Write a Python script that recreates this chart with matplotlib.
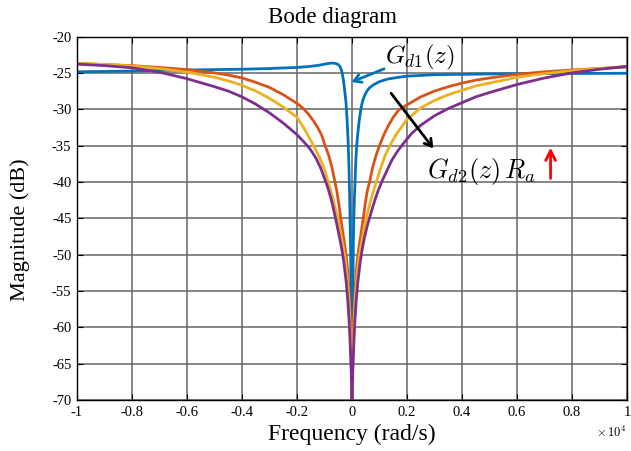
import matplotlib
matplotlib.use('Agg')
import matplotlib.pyplot as plt
import numpy as np

# frequency in units of 1e4 rad/s, magnitude in dB
gd1_w = [-1.0, -0.8, -0.6, -0.4, -0.3, -0.2, -0.15, -0.12, -0.1, -0.085, -0.07, -0.06,
         -0.05, -0.043, -0.037, -0.032, -0.027, -0.022, -0.018, -0.014, -0.011, -0.008,
         -0.005, -0.002, 0.0,
         0.002, 0.005, 0.008, 0.011, 0.014, 0.017, 0.022, 0.027, 0.033, 0.039, 0.047,
         0.056, 0.065, 0.08, 0.1, 0.13, 0.17, 0.2, 0.25, 0.3, 0.4, 0.5, 0.7, 1.0]
gd1_db = [-24.85, -24.75, -24.6, -24.5, -24.4, -24.25, -24.1, -23.95, -23.8, -23.7, -23.65, -23.7,
          -23.85, -24.15, -24.8, -25.8, -27.3, -29.0, -31.3, -34.5, -38.0, -43.0,
          -50.0, -60.0, -70.0,
          -60.0, -48.0, -43.0, -40.0, -37.0, -35.0, -33.0, -31.3, -29.8, -28.8, -28.0,
          -27.4, -27.0, -26.6, -26.2, -25.85, -25.6, -25.45, -25.35, -25.25, -25.2, -25.15,
          -25.1, -25.05]

ra1_w = [-1.0, -0.9, -0.8, -0.7, -0.6, -0.5, -0.45, -0.4, -0.35, -0.3, -0.25, -0.2,
         -0.18, -0.16, -0.14, -0.125, -0.11, -0.098, -0.085, -0.073, -0.062, -0.055,
         -0.048, -0.041, -0.034, -0.027, -0.02, -0.014, -0.009, -0.005, -0.002, 0.0,
         0.002, 0.005, 0.009, 0.014, 0.02, 0.027, 0.034, 0.041, 0.048, 0.055, 0.064,
         0.075, 0.087, 0.1, 0.115, 0.13, 0.15, 0.17, 0.2, 0.25, 0.3, 0.35, 0.4, 0.45,
         0.5, 0.6, 0.7, 0.8, 0.9, 1.0]
ra1_db = [-23.7, -23.85, -24.0, -24.25, -24.55, -25.0, -25.3, -25.7, -26.3, -27.0, -28.0, -29.2,
          -29.8, -30.6, -31.6, -32.5, -33.6, -35.0, -36.3, -38.0, -40.0, -41.3,
          -43.0, -45.0, -46.8, -48.6, -50.5, -53.0, -56.5, -60.5, -65.5, -70.0,
          -65.5, -60.5, -56.5, -53.0, -50.5, -48.6, -46.8, -45.0, -43.0, -41.3, -40.0,
          -38.0, -36.4, -35.0, -33.6, -32.4, -31.1, -30.1, -29.4, -28.3, -27.5, -26.9,
          -26.4, -26.0, -25.7, -25.2, -24.85, -24.6, -24.4, -24.2]

ra2_w = [-1.0, -0.9, -0.8, -0.7, -0.6, -0.5, -0.45, -0.4, -0.35, -0.3, -0.25, -0.2,
         -0.17, -0.14, -0.116, -0.1, -0.086, -0.075, -0.065, -0.057, -0.05, -0.042,
         -0.034, -0.026, -0.019, -0.013, -0.008, -0.004, -0.0015, 0.0,
         0.0015, 0.004, 0.008, 0.013, 0.019, 0.026, 0.034, 0.042, 0.05, 0.058, 0.067,
         0.078, 0.09, 0.105, 0.12, 0.138, 0.16, 0.2, 0.25, 0.3, 0.35, 0.4, 0.45, 0.5,
         0.6, 0.7, 0.8, 0.9, 1.0]
ra2_db = [-23.7, -23.85, -24.05, -24.4, -24.9, -25.6, -26.1, -26.7, -27.5, -28.5, -29.7, -31.1,
          -32.9, -35.0, -36.8, -38.3, -40.0, -41.5, -43.0, -44.2, -45.3, -46.8,
          -48.5, -50.3, -52.6, -55.3, -58.7, -63.0, -67.0, -70.0,
          -67.0, -63.0, -58.7, -55.3, -52.6, -50.3, -48.5, -46.8, -45.3, -44.0, -42.7,
          -41.2, -39.8, -38.0, -36.4, -35.0, -33.5, -31.4, -29.8, -28.8, -28.0, -27.4,
          -26.8, -26.4, -25.6, -25.1, -24.7, -24.4, -24.1]

ra3_w = [-1.0, -0.9, -0.8, -0.7, -0.6, -0.5, -0.45, -0.4, -0.35, -0.3, -0.25, -0.2,
         -0.17, -0.15, -0.13, -0.115, -0.1, -0.088, -0.077, -0.068, -0.06, -0.052,
         -0.044, -0.036, -0.03, -0.021, -0.015, -0.01, -0.006, -0.003, 0.0,
         0.003, 0.006, 0.01, 0.015, 0.021, 0.03, 0.036, 0.045, 0.055, 0.065, 0.075,
         0.085, 0.096, 0.108, 0.125, 0.145, 0.165, 0.185, 0.215, 0.25, 0.3, 0.35, 0.4,
         0.45, 0.5, 0.6, 0.7, 0.8, 0.9, 1.0]
ra3_db = [-23.8, -24.0, -24.3, -24.9, -25.8, -26.9, -27.5, -28.3, -29.3, -30.5, -31.9, -33.5,
          -34.7, -35.6, -36.8, -38.0, -39.5, -40.8, -42.2, -43.6, -45.0, -46.4,
          -47.9, -49.5, -51.0, -53.8, -56.5, -59.5, -62.8, -66.0, -70.0,
          -66.0, -62.8, -59.5, -56.5, -53.8, -51.0, -49.5, -47.7, -46.1, -44.8, -43.5,
          -42.3, -41.1, -40.0, -38.6, -37.0, -35.8, -34.8, -33.4, -32.2, -30.9, -29.9,
          -29.1, -28.3, -27.7, -26.6, -25.7, -25.0, -24.5, -24.1]

x_ticks = [-1, -0.8, -0.6, -0.4, -0.2, 0, 0.2, 0.4, 0.6, 0.8, 1]
x_labels = ['-1', '-0.8', '-0.6', '-0.4', '-0.2', '0', '0.2', '0.4', '0.6', '0.8', '1']
y_ticks = [-70, -65, -60, -55, -50, -45, -40, -35, -30, -25, -20]
y_labels = ['-70', '-65', '-60', '-55', '-50', '-45', '-40', '-35', '-30', '-25', '-20']

plt.rcParams['font.family'] = ['Liberation Serif', 'DejaVu Serif']
plt.rcParams['mathtext.fontset'] = 'cm'

fig = plt.figure(figsize=(6.31, 4.51), dpi=100)
ax = fig.add_axes([0.122, 0.113, 0.8717, 0.806])

# matlab default colour order, later lines on top
line_kw = dict(lw=2.0, solid_joinstyle='round', solid_capstyle='round')
ax.plot(gd1_w, gd1_db, color='#0072BD', **line_kw)
ax.plot(ra1_w, ra1_db, color='#D95319', **line_kw)
ax.plot(ra2_w, ra2_db, color='#EDB120', **line_kw)
ax.plot(ra3_w, ra3_db, color='#7E2F8E', **line_kw)

ax.set_xlim(-1, 1)
ax.set_ylim(-70, -20)
ax.set_xticks(x_ticks)
ax.set_xticklabels(x_labels)
ax.set_yticks(y_ticks)
ax.set_yticklabels(y_labels)
ax.tick_params(direction='in', length=4, labelsize=10.5, top=True, right=True, pad=4)
ax.grid(True, color='0.4', lw=1.1)
for s in ax.spines.values():
    s.set_linewidth(1.0)

ax.set_title('Bode diagram', fontsize=16.5, x=0.465, pad=10)
ax.set_xlabel('Frequency (rad/s)', fontsize=17)
ax.xaxis.set_label_coords(0.5, -0.066)
ax.set_ylabel('Magnitude (dB)', fontsize=16)
ax.yaxis.set_label_coords(-0.085, 0.47)
ax.text(1.0, -0.09, r'$\times\,10^4$', transform=ax.transAxes, ha='right', va='center',
        fontsize=9, family='DejaVu Serif')

# annotations
ax.annotate('', xy=(-0.011, -26.4), xytext=(0.126, -24.3),
            arrowprops=dict(arrowstyle='->,head_length=0.5,head_width=0.3',
                            color='#0072BD', lw=2))
ax.text(0.12, -22.9, r'$G_{d1}(z)$', fontsize=18, ha='left', va='center')
ax.annotate('', xy=(0.302, -35.7), xytext=(0.136, -27.5),
            arrowprops=dict(arrowstyle='->,head_length=0.5,head_width=0.3',
                            color='black', lw=2))
ax.text(0.273, -38.6, r'$G_{d2}(z)\,R_a$', fontsize=19, ha='left', va='center')
ax.annotate('', xy=(0.722, -34.9), xytext=(0.722, -39.9),
            arrowprops=dict(arrowstyle='->,head_length=0.7,head_width=0.35',
                            color='red', lw=2))

fig.savefig('out.png', dpi=100)
